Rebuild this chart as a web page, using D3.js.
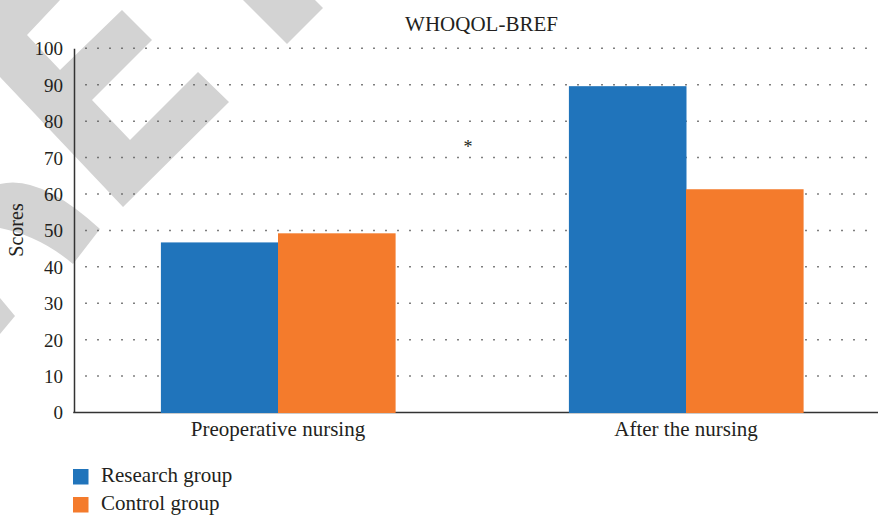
<!DOCTYPE html>
<html><head><meta charset="utf-8">
<script src="https://cdn.jsdelivr.net/npm/d3@7"></script>
<style>
html,body{margin:0;padding:0;background:#fff;}
svg{display:block;}
svg text{font-family:"Liberation Serif","DejaVu Serif",serif !important;fill:#231f20;}
</style></head>
<body>
<svg id="chart" width="878" height="518"></svg>
<script>
const title = "WHOQOL-BREF";
const categories = ["Preoperative nursing", "After the nursing"];
const seriesNames = ["Research group", "Control group"];
const researchValues = [46.7, 89.6];
const controlValues = [49.2, 61.3];
const yTicks = [0, 10, 20, 30, 40, 50, 60, 70, 80, 90, 100];
const yLabel = "Scores";
const significance = [{text: "*", value: 73.5}];
const colors = ["#2074bb", "#f47b2c"];

const FONT = '"Liberation Serif", "DejaVu Serif", serif';
const svg = d3.select("#chart");
const W = 878, H = 518;
const m = {left: 74, top: 48.3, bottom: 412.5};

// watermark (decorative background)
const wm = svg.append("g").attr("fill", "#d3d3d3");
[
  "M0,0 L60,0 L27,35 L60,70 L122,10 L152,40 L92,100 L130,140 L198,72 L229,102 L123,207 L0,77 Z",
  "M243,0 L287,44 L323,8 L315,0 Z",
  "M0,184 Q40,174 100,229 L73,264 Q40,236 0,228 Z",
  "M0,298 L15,316 L0,334 Z"
].forEach(d => wm.append("path").attr("d", d));

const y = d3.scaleLinear().domain([0, 100]).range([m.bottom, m.top]);
const x = d3.scaleBand().domain(categories).range([74, 890])
  .paddingInner(0.426).paddingOuter(0.213);
const xs = d3.scaleBand().domain(seriesNames).range([0, x.bandwidth()]);

// grid (dotted)
svg.append("g").selectAll("line").data(yTicks.filter(d => d > 0)).join("line")
  .attr("x1", 85.25).attr("x2", 872).attr("y1", d => y(d)).attr("y2", d => y(d))
  .attr("stroke", "#555").attr("stroke-width", 1.5).attr("stroke-dasharray", "1.5,10.5");

// y axis
const yAxis = svg.append("g").attr("transform", `translate(${m.left},0)`)
  .call(d3.axisLeft(y).tickValues(yTicks).tickSize(0).tickPadding(11));
yAxis.attr("font-family", null);
yAxis.select(".domain").attr("stroke", "#333").attr("stroke-width", 1.5);
yAxis.selectAll("text").attr("font-size", 19).style("fill", "#231f20")
  .style("font-family", FONT).attr("dy", "0.34em");

// x axis line
svg.append("line").attr("x1", m.left - 0.75).attr("x2", W).attr("y1", m.bottom).attr("y2", m.bottom)
  .attr("stroke", "#333").attr("stroke-width", 1.6);

// bars
const data = categories.map((c, i) => ({cat: c, vals: [researchValues[i], controlValues[i]]}));
const grp = svg.append("g").selectAll("g").data(data).join("g")
  .attr("transform", d => `translate(${x(d.cat)},0)`);
grp.selectAll("rect").data(d => d.vals.map((v, j) => ({v, s: seriesNames[j], j}))).join("rect")
  .attr("x", d => xs(d.s)).attr("width", xs.bandwidth() + 0.5)
  .attr("y", d => y(d.v)).attr("height", d => y(0) - y(d.v) + 0.5)
  .attr("fill", d => colors[d.j]);

// category labels
svg.append("g").selectAll("text").data(categories).join("text")
  .attr("x", d => x(d) + x.bandwidth() / 2).attr("y", 436)
  .attr("text-anchor", "middle").attr("font-size", 21).style("font-family", FONT).text(d => d);

// significance mark
svg.selectAll(".sig").data(significance).join("text").attr("class", "sig")
  .attr("x", (x(categories[0]) + x.bandwidth() + x(categories[1])) / 2 - 14)
  .attr("y", d => y(d.value) + 8).attr("text-anchor", "middle").attr("font-size", 18)
  .style("font-family", FONT).text(d => d.text);

// title
svg.append("text").attr("x", 481.5).attr("y", 31).attr("text-anchor", "middle")
  .attr("font-size", 21).style("font-family", FONT).text(title);

// y label
svg.append("text").attr("transform", "translate(23,230) rotate(-90)")
  .attr("text-anchor", "middle").attr("font-size", 20).style("font-family", FONT).text(yLabel);

// legend
const lg = svg.append("g").selectAll("g").data(seriesNames).join("g")
  .attr("transform", (d, i) => `translate(73,${469 + i * 28})`);
lg.append("rect").attr("width", 15.5).attr("height", 15.5).attr("fill", (d, i) => colors[i]);
lg.append("text").attr("x", 28).attr("y", 13).attr("font-size", 21).style("font-family", FONT).text(d => d);
</script>
</body></html>
